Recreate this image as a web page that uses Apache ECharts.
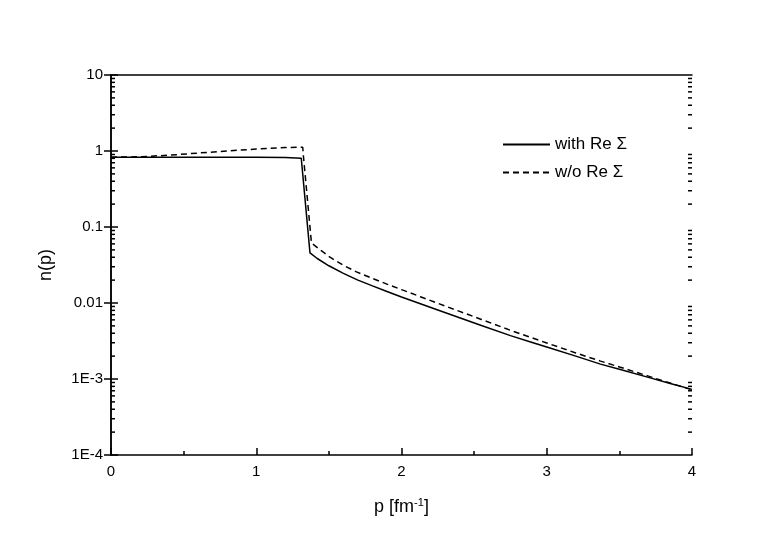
<!DOCTYPE html>
<html>
<head>
<meta charset="utf-8">
<script src="https://cdn.jsdelivr.net/npm/echarts@6/dist/echarts.min.js"></script>
<style>html,body{margin:0;padding:0;background:#fff}#c{width:763px;height:537px}</style>
</head>
<body>
<div id="c"></div>
<script>
// ---- data ----
const pWith = [0, 0.2, 0.4, 0.6, 0.8, 1.0, 1.2, 1.31, 1.37, 1.42, 1.5, 1.6, 1.7, 1.8, 1.9, 2.0, 2.13, 2.25, 2.4, 2.55, 2.75, 2.9, 3.0, 3.2, 3.37, 3.5, 3.7, 3.85, 4.0];
const nWith = [0.83, 0.83, 0.83, 0.83, 0.83, 0.83, 0.82, 0.80, 0.0457, 0.0385, 0.0309, 0.0245, 0.0200, 0.0168, 0.0142, 0.0120, 0.00977, 0.00809, 0.00640, 0.00506, 0.00372, 0.00302, 0.00263, 0.00200, 0.00157, 0.00134, 0.00105, 0.000875, 0.00073];
const pWo = [0, 0.2, 0.4, 0.6, 0.8, 1.0, 1.2, 1.32, 1.325, 1.38, 1.45, 1.51, 1.6, 1.69, 1.8, 1.9, 2.0, 2.13, 2.25, 2.4, 2.55, 2.75, 2.9, 3.0, 3.2, 3.37, 3.5, 3.7, 3.85, 4.0];
const nWo = [0.83, 0.84, 0.88, 0.94, 1.0, 1.06, 1.11, 1.12, 0.85, 0.0617, 0.0484, 0.0398, 0.0313, 0.0257, 0.0211, 0.0177, 0.0150, 0.0121, 0.00993, 0.00776, 0.00607, 0.00437, 0.00347, 0.00298, 0.00220, 0.00172, 0.00144, 0.00109, 0.000885, 0.000719];
const seriesNames = ['with Re \u03A3', 'w/o Re \u03A3'];
const yTickValues = [1e-4, 1e-3, 0.01, 0.1, 1, 10];
const yTickLabels = ['1E-4', '1E-3', '0.01', '0.1', '1', '10'];
const xTickLabels = ['0', '1', '2', '3', '4'];
const minorFactors = [2, 3, 4, 5, 6, 7, 8, 9];
const decades = [1e-4, 1e-3, 0.01, 0.1, 1];

const minorTicks = [];
decades.forEach(d => minorFactors.forEach(f => minorTicks.push(f * d)));

const font = 'Liberation Sans, Arial, sans-serif';
const chart = echarts.init(document.getElementById('c'), null, {renderer: 'canvas'});

function yLabel(v) {
  for (let i = 0; i < yTickValues.length; i++) {
    if (Math.abs(Math.log10(v) - Math.log10(yTickValues[i])) < 1e-6) return yTickLabels[i];
  }
  return '';
}

const option = {
  animation: false,
  backgroundColor: '#fff',
  grid: {left: 111, right: 71, top: 75, bottom: 82},
  legend: {
    left: 497, top: 131, orient: 'vertical',
    itemWidth: 47, itemHeight: 14, itemGap: 11,
    itemStyle: {opacity: 0},
    textStyle: {fontFamily: font, fontSize: 17, color: '#000'},
    data: seriesNames
  },
  xAxis: [{
    type: 'value', min: 0, max: 4, interval: 1,
    axisLine: {lineStyle: {color: '#000', width: 1.5}},
    axisTick: {inside: true, length: 7, lineStyle: {color: '#000', width: 1.5}},
    minorTick: {show: true, splitNumber: 2, length: 4, lineStyle: {color: '#000', width: 1.5}},
    splitLine: {show: false},
    axisLabel: {fontFamily: font, fontSize: 15, color: '#000', margin: 9,
      formatter: v => xTickLabels[Math.round(v)] },
    name: '{a|p [fm}{s|-1}{a|]}', nameLocation: 'middle', nameGap: 42,
    nameTextStyle: {rich: {a: {fontFamily: font, fontSize: 18, color: '#000'}, s: {fontFamily: font, fontSize: 11, color: '#000', verticalAlign: 'top', padding: [0, 0, 10, 0]}}}
  }, {
    type: 'value', min: 0, max: 4, position: 'top',
    axisLine: {show: true, lineStyle: {color: '#000', width: 1.5}},
    axisTick: {show: false}, axisLabel: {show: false}, splitLine: {show: false}
  }],
  yAxis: [{
    type: 'log', logBase: 10, min: 1e-4, max: 10,
    axisLine: {show: true, lineStyle: {color: '#000', width: 1.5}},
    axisTick: {show: true, inside: true, length: 7, lineStyle: {color: '#000', width: 1.5}},
    splitLine: {show: false},
    axisLabel: {fontFamily: font, fontSize: 15, color: '#000', margin: 8, formatter: yLabel},
    name: 'n(p)', nameLocation: 'middle', nameGap: 56, nameRotate: 90,
    nameTextStyle: {fontFamily: font, fontSize: 18, color: '#000'}
  }, {
    type: 'log', logBase: 10, min: 1e-4, max: 10, position: 'right',
    axisLine: {show: true, lineStyle: {color: '#000', width: 1.5}},
    axisTick: {show: true, inside: true, length: 7, lineStyle: {color: '#000', width: 1.5}},
    splitLine: {show: false}, axisLabel: {show: false}
  }],
  series: [{
    name: seriesNames[0], type: 'line', symbol: 'none', smooth: false,
    data: pWith.map((p, i) => [p, nWith[i]]),
    lineStyle: {color: '#000', width: 1.5, type: 'solid'},
    itemStyle: {color: '#000'}
  }, {
    name: seriesNames[1], type: 'line', symbol: 'none', smooth: false,
    data: pWo.map((p, i) => [p, nWo[i]]),
    lineStyle: {color: '#000', width: 1.5, type: [6, 4]},
    itemStyle: {color: '#000'}
  }, {
    type: 'custom', silent: true,
    data: minorTicks.map(v => [0, v]),
    renderItem: function (params, api) {
      const v = api.value(1);
      const l = api.coord([0, v]);
      const r = api.coord([4, v]);
      return {type: 'group', children: [
        {type: 'line', shape: {x1: l[0], y1: l[1], x2: l[0] + 4, y2: l[1]}, style: {stroke: '#000', lineWidth: 1.5}},
        {type: 'line', shape: {x1: r[0], y1: r[1], x2: r[0] - 4, y2: r[1]}, style: {stroke: '#000', lineWidth: 1.5}}
      ]};
    },
    z: 5
  }]
};
chart.setOption(option);
</script>
</body>
</html>
